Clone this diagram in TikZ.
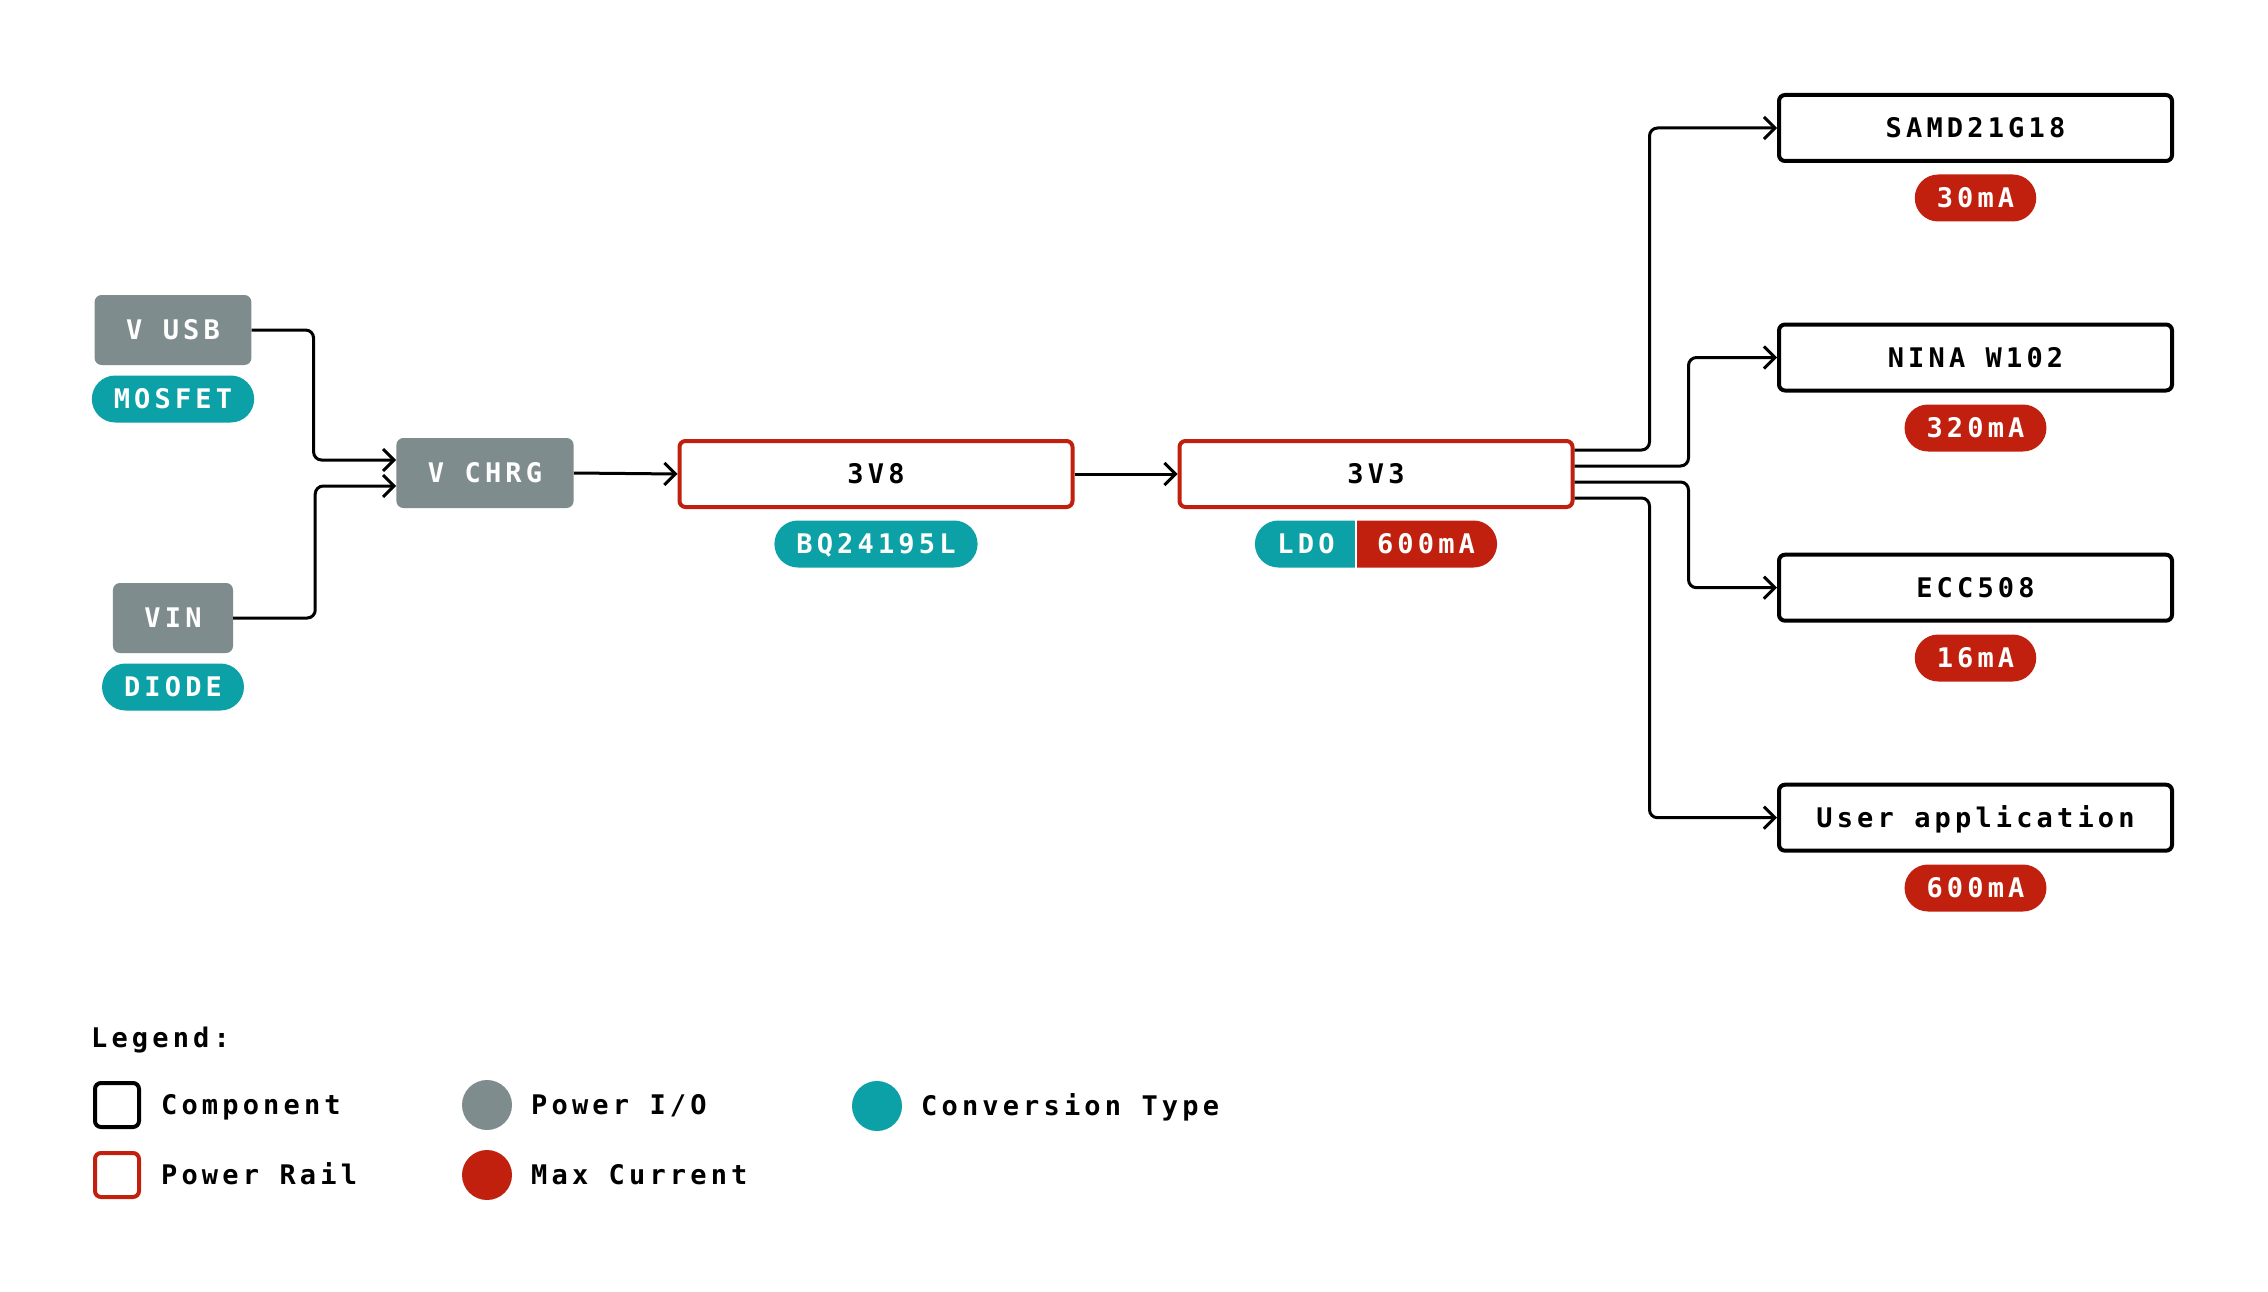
\documentclass[tikz,border=0pt]{standalone}
\usepackage{fontspec}
\newfontfamily\lblfont{DejaVu Sans Mono}[LetterSpace=15.4]
\usetikzlibrary{arrows.meta,shapes.misc}
\definecolor{pgray}{HTML}{7F8C8D}
\definecolor{pteal}{HTML}{0CA1A6}
\definecolor{pred}{HTML}{C1200E}
\begin{document}
\begin{tikzpicture}[x=1pt,y=-1pt,
  txt/.style={font=\lblfont\bfseries\fontsize{27}{31}\selectfont},
  boxtxt/.style={txt,text height=19.7pt,text depth=0pt},
  comp/.style={boxtxt,draw=black,line width=4pt,rounded corners=6pt,minimum width=393pt,minimum height=66pt,inner sep=0pt,fill=white},
  rail/.style={comp,draw=pred},
  pio/.style={boxtxt,fill=pgray,text=white,rounded corners=7pt,minimum height=70pt,inner xsep=31.5pt,inner ysep=0pt},
  conv/.style={boxtxt,fill=pteal,text=white,rounded corners=23.5pt,minimum height=47pt,inner xsep=22pt,inner ysep=0pt},
  cur/.style={conv,fill=pred},
  half/.style={boxtxt,text=white,rounded rectangle,minimum height=47pt,inner xsep=0pt,inner ysep=0pt},
  wire/.style={line width=3pt,rounded corners=8pt,-{Straight Barb[length=11pt,width=22pt]}},
  legtxt/.style={txt,anchor=base west,inner sep=0pt},
  legsq/.style={line width=4pt,rounded corners=6pt,minimum size=44pt,inner sep=0pt},
  legdot/.style={circle,minimum size=50pt,inner sep=0pt}
]
\useasboundingbox[fill=white] (0,0) rectangle (2268,1292);

% power inputs
\node[pio] (vusb) at (173,330) {V USB};
\node[conv] (mosfet) at (173,399) {MOSFET};
\node[pio] (vin) at (173,618) {VIN};
\node[conv] (diode) at (173,687) {DIODE};
\node[pio] (vchrg) at (485,473) {V CHRG};

% rails
\node[rail] (r38) at (876,474) {3V8};
\node[conv] (bq) at (876,544) {BQ24195L};
\node[rail] (r33) at (1376,474) {3V3};
\node[half,fill=pteal,rounded rectangle right arc=none,minimum width=100pt] (ldo) at (1306,544) {LDO};
\node[half,fill=pred,rounded rectangle left arc=none,minimum width=140pt] (ldoma) at (1426,544) {600mA};

% components
\node[comp] (samd) at (1975.5,128) {SAMD21G18};
\node[cur] (samdma) at (1975.5,198) {30mA};
\node[comp] (nina) at (1975.5,357.5) {NINA W102};
\node[cur] (ninama) at (1975.5,428) {320mA};
\node[comp] (ecc) at (1975.5,587.7) {ECC508};
\node[cur] (eccma) at (1975.5,658) {16mA};
\node[comp] (user) at (1975.5,817.7) {User application};
\node[cur] (userma) at (1975.5,888) {600mA};

% connectors
\draw[wire] (vusb.east) -- ++(62,0) |- ([yshift=13pt]vchrg.west);
\draw[wire] (vin.east) -- ++(82,0) |- ([yshift=-13pt]vchrg.west);
\draw[wire] (vchrg.east) -- (r38.west);
\draw[wire] (r38.east) -- (r33.west);
\draw[wire] ([yshift=24pt]r33.east) -- ++(75,0) |- (samd.west);
\draw[wire] ([yshift=8pt]r33.east) -- ++(114,0) |- (nina.west);
\draw[wire] ([yshift=-8pt]r33.east) -- ++(114,0) |- (ecc.west);
\draw[wire] ([yshift=-24pt]r33.east) -- ++(75,0) |- (user.west);

% legend
\node[legtxt] (leg) at (91,1047) {Legend:};
\node[legsq,draw=black] (lcomp) at (117,1105) {};
\node[legtxt] (lcompt) at (161,1114) {Component};
\node[legsq,draw=pred] (lrail) at (117,1175) {};
\node[legtxt] (lrailt) at (161,1184) {Power Rail};
\node[legdot,fill=pgray] (lpio) at (487,1105) {};
\node[legtxt] (lpiot) at (531,1114) {Power I/O};
\node[legdot,fill=pred] (lmax) at (487,1175) {};
\node[legtxt] (lmaxt) at (531,1184) {Max Current};
\node[legdot,fill=pteal] (lconv) at (877,1106) {};
\node[legtxt] (lconvt) at (921,1115) {Conversion Type};
\end{tikzpicture}
\end{document}
